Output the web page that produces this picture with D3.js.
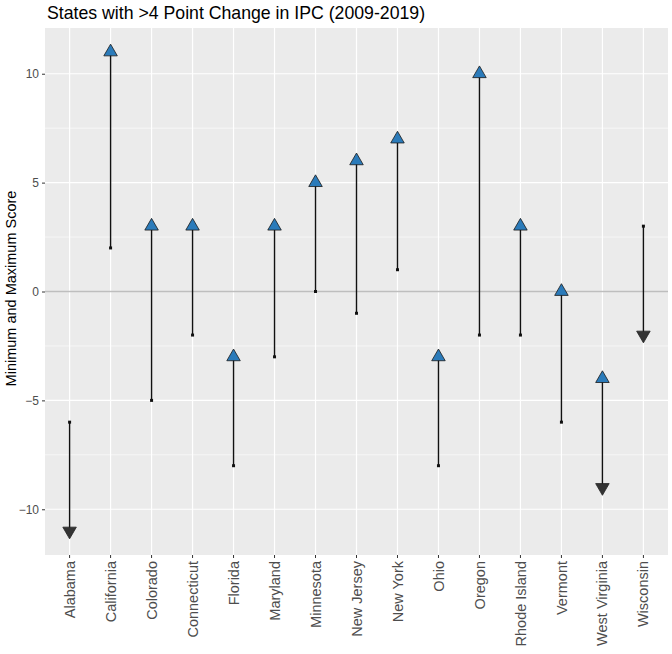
<!DOCTYPE html>
<html>
<head>
<meta charset="utf-8">
<script src="https://cdn.jsdelivr.net/npm/d3@7"></script>
<style>
  body { margin: 0; background: #fff; }
  text { font-family: "Liberation Sans", Arial, sans-serif; }
</style>
</head>
<body>
<div id="chart"></div>
<script>
// values: 2009 score -> 2019 score
const states = ["Alabama", "California", "Colorado", "Connecticut", "Florida", "Maryland", "Minnesota",
	"New Jersey", "New York", "Ohio", "Oregon", "Rhode Island", "Vermont", "West Virginia", "Wisconsin"];
const startScore = [-6, 2, -5, -2, -8, -3, 0, -1, 1, -8, -2, -2, -6, -4, 3];
const endScore = [-11, 11, 3, 3, -3, 3, 5, 6, 7, -3, 10, 3, 0, -9, -2];
// blue triangles (null = none drawn)
const upMark = [null, 11, 3, 3, -3, 3, 5, 6, 7, -3, 10, 3, 0, -4, null];
const yTicks = [-10, -5, 0, 5, 10];

const width = 672, height = 654;
const margin = {top: 28, right: 4, bottom: 99, left: 45};

const svg = d3.select("#chart").append("svg")
		.attr("width", width)
		.attr("height", height);

const x = d3.scaleBand()
		.domain(states)
		.range([margin.left, width - margin.right])
		.paddingInner(0)
		.paddingOuter(0.1);

const y = d3.scaleLinear()
		.domain([-12.1, 12.1])
		.range([height - margin.bottom, margin.top]);

const cx = d => x(d) + x.bandwidth() / 2;

// panel
svg.append("rect")
		.attr("x", margin.left)
		.attr("y", margin.top)
		.attr("width", width - margin.right - margin.left)
		.attr("height", height - margin.bottom - margin.top)
		.attr("fill", "#ebebeb");

const minor = d3.range(-12.5, 12.6, 5);
svg.append("g")
	.selectAll("line")
	.data(minor.filter(v => v > -12.1 && v < 12.1))
	.join("line")
		.attr("x1", margin.left)
		.attr("x2", width - margin.right)
		.attr("y1", d => y(d))
		.attr("y2", d => y(d))
		.attr("stroke", "#fff")
		.attr("stroke-width", 0.6);

svg.append("g")
	.selectAll("line")
	.data(yTicks)
	.join("line")
		.attr("x1", margin.left)
		.attr("x2", width - margin.right)
		.attr("y1", d => y(d))
		.attr("y2", d => y(d))
		.attr("stroke", "#fff")
		.attr("stroke-width", 1.2);

svg.append("g")
	.selectAll("line")
	.data(states)
	.join("line")
		.attr("x1", d => cx(d))
		.attr("x2", d => cx(d))
		.attr("y1", margin.top)
		.attr("y2", height - margin.bottom)
		.attr("stroke", "#fff")
		.attr("stroke-width", 1.2);

// zero line
svg.append("line")
		.attr("x1", margin.left)
		.attr("x2", width - margin.right)
		.attr("y1", y(0))
		.attr("y2", y(0))
		.attr("stroke", "#bebebe")
		.attr("stroke-width", 1.3);

// axes
const yAxis = svg.append("g")
		.attr("transform", `translate(${margin.left},0)`)
		.call(d3.axisLeft(y).tickValues(yTicks).tickSize(3).tickPadding(3));
yAxis.select(".domain").remove();
yAxis.selectAll("line").attr("stroke", "#333");
yAxis.selectAll("text").attr("fill", "#4d4d4d").style("font-size", "12px");

const xAxis = svg.append("g")
		.attr("transform", `translate(0,${height - margin.bottom})`)
		.call(d3.axisBottom(x).tickSize(3).tickPadding(3));
xAxis.select(".domain").remove();
xAxis.selectAll("line").attr("stroke", "#333");
xAxis.selectAll("text")
		.attr("fill", "#4d4d4d")
		.style("font-size", "14.5px")
		.attr("transform", "rotate(-90)")
		.attr("x", -6)
		.attr("y", 0)
		.attr("dy", "0.35em")
		.attr("text-anchor", "end");

// segments
const data = states.map((s, i) => ({state: s, a: startScore[i], b: endScore[i], up: upMark[i]}));

svg.append("g")
	.selectAll("line")
	.data(data)
	.join("line")
		.attr("x1", d => cx(d.state))
		.attr("x2", d => cx(d.state))
		.attr("y1", d => y(d.a))
		.attr("y2", d => y(d.b))
		.attr("stroke", "#111")
		.attr("stroke-width", 1.4);

svg.append("g")
	.selectAll("rect")
	.data(data)
	.join("rect")
		.attr("x", d => cx(d.state) - 1.5)
		.attr("y", d => y(d.a) - 1.5)
		.attr("width", 3)
		.attr("height", 3)
		.attr("fill", "#111");

const r = 7.8;
const tri = (px, py, dir) => {
	const h = r * Math.sqrt(3) / 2;
	if (dir > 0) return `M${px},${py - r}L${px + h},${py + r / 2}L${px - h},${py + r / 2}Z`;
	return `M${px},${py + r}L${px + h},${py - r / 2}L${px - h},${py - r / 2}Z`;
};

svg.append("g")
	.selectAll("path")
	.data(data.filter(d => d.b < d.a))
	.join("path")
		.attr("d", d => tri(cx(d.state), y(d.b), -1))
		.attr("fill", "#333")
		.attr("stroke", "#222")
		.attr("stroke-width", 0.8);

svg.append("g")
	.selectAll("path")
	.data(data.filter(d => d.up !== null))
	.join("path")
		.attr("d", d => tri(cx(d.state), y(d.up), 1))
		.attr("fill", "#2b7bba")
		.attr("stroke", "#1a1a1a")
		.attr("stroke-width", 0.8);

// labels
svg.append("text")
		.attr("x", 47)
		.attr("y", 19)
		.attr("fill", "#000")
		.style("font-size", "17.7px")
		.text("States with >4 Point Change in IPC (2009-2019)");

svg.append("text")
		.attr("transform", `translate(16,${(margin.top + height - margin.bottom) / 2 - 3}) rotate(-90)`)
		.attr("text-anchor", "middle")
		.attr("fill", "#000")
		.style("font-size", "14.5px")
		.text("Minimum and Maximum Score");
</script>
</body>
</html>
